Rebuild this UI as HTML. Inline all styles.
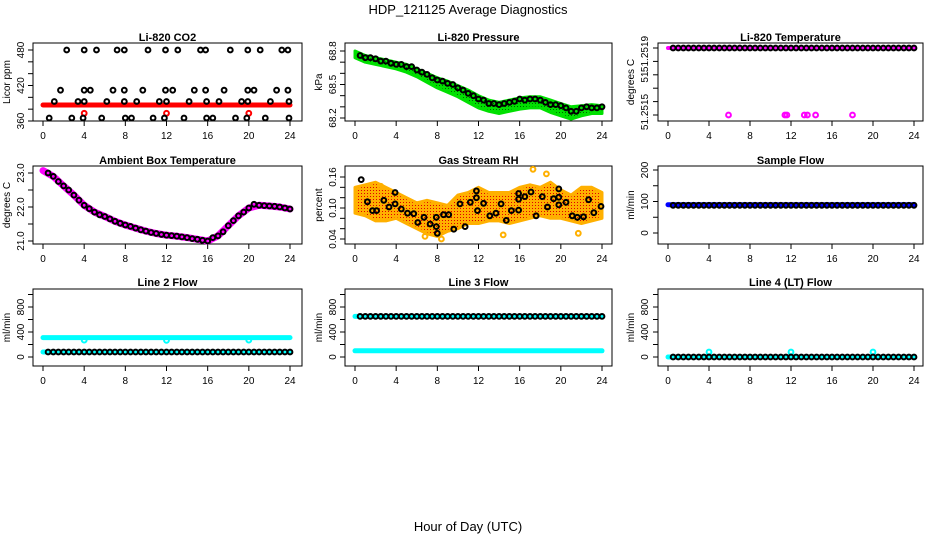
<!DOCTYPE html>
<html><head><meta charset="utf-8"><style>
body{margin:0;background:#fff}
svg{display:block;font-family:"Liberation Sans",Arial,sans-serif}
</style></head><body>
<svg id="c" width="936" height="540" viewBox="0 0 936 540">
<defs>
<pattern id="dotsG" width="3" height="3" patternUnits="userSpaceOnUse"><rect width="3" height="3" fill="#00e000"/><rect x="1" y="1" width="1" height="1" fill="#006000"/></pattern>
<pattern id="dotsO" width="3" height="3" patternUnits="userSpaceOnUse"><rect width="3" height="3" fill="#ffb000"/><rect x="1" y="1" width="1" height="1" fill="#e00000"/></pattern>
</defs>
<text x="468" y="14" text-anchor="middle" font-size="13">HDP_121125  Average Diagnostics</text>
<text x="468" y="531" text-anchor="middle" font-size="13">Hour of Day (UTC)</text>
</svg>
<script>
// ---------- data ----------
const xTickVals = [0,4,8,12,16,20,24];
const halfHours = [0.5,1,1.5,2,2.5,3,3.5,4,4.5,5,5.5,6,6.5,7,7.5,8,8.5,9,9.5,10,10.5,11,11.5,12,12.5,13,13.5,14,14.5,15,15.5,16,16.5,17,17.5,18,18.5,19,19.5,20,20.5,21,21.5,22,22.5,23,23.5,24];
const hourly = [0,1,2,3,4,5,6,7,8,9,10,11,12,13,14,15,16,17,18,19,20,21,22,23,24];

const co2Hours = [2.3,4.0,5.2,7.2,7.9,10.2,11.9,13.1,15.3,15.8,18.2,19.9,21.1,23.2,23.8,
 1.7,4.0,4.6,6.8,7.9,9.7,11.9,12.6,14.7,15.8,17.6,19.9,20.5,22.7,23.8,
 1.1,3.4,4.0,6.2,7.9,9.1,11.3,12.0,14.2,15.9,17.1,19.3,19.9,22.1,23.9,
 0.6,2.8,3.9,5.7,8.0,8.6,10.7,11.8,13.7,15.9,16.5,18.7,19.8,21.6,23.9];
const co2Vals = [480,480,480,480,480,480,480,480,480,480,480,480,480,480,480,
 412,412,412,412,412,412,412,412,412,412,412,412,412,412,412,
 393,393,393,393,393,393,393,393,393,393,393,393,393,393,393,
 365,365,365,365,365,365,365,365,365,365,365,365,365,365,365];
const co2Red = [387,387,387,387,387,387,387,387,387,387,387,387,387,387,387,387,387,387,387,387,387,387,387,387,387];
const co2RedOutHours = [4,12,20];
const co2RedOutVals = [373,373,373];

const pressVals = [68.76,68.74,68.74,68.73,68.71,68.71,68.69,68.68,68.68,68.66,68.66,68.63,68.61,68.59,68.56,68.54,68.53,68.51,68.50,68.47,68.45,68.42,68.40,68.37,68.36,68.33,68.33,68.32,68.33,68.34,68.35,68.37,68.36,68.37,68.37,68.36,68.34,68.32,68.32,68.31,68.29,68.26,68.26,68.29,68.30,68.29,68.29,68.30];
const pressHi = [68.80,68.76,68.74,68.72,68.70,68.68,68.64,68.60,68.56,68.53,68.49,68.45,68.40,68.36,68.34,68.36,68.38,68.39,68.39,68.36,68.33,68.30,68.31,68.32,68.31];
const pressLo = [68.74,68.70,68.68,68.66,68.64,68.61,68.57,68.52,68.47,68.43,68.39,68.34,68.29,68.26,68.24,68.26,68.28,68.29,68.29,68.25,68.22,68.19,68.22,68.24,68.24];

const tempVals = [51.2519,51.2519,51.2519,51.2519,51.2519,51.2519,51.2519,51.2519,51.2519,51.2519,51.2519,51.2519,51.2519,51.2519,51.2519,51.2519,51.2519,51.2519,51.2519,51.2519,51.2519,51.2519,51.2519,51.2519,51.2519,51.2519,51.2519,51.2519,51.2519,51.2519,51.2519,51.2519,51.2519,51.2519,51.2519,51.2519,51.2519,51.2519,51.2519,51.2519,51.2519,51.2519,51.2519,51.2519,51.2519,51.2519,51.2519,51.2519];
const tempMag = [51.2519,51.2519,51.2519,51.2519,51.2519,51.2519,51.2519,51.2519,51.2519,51.2519,51.2519,51.2519,51.2519,51.2519,51.2519,51.2519,51.2519,51.2519,51.2519,51.2519,51.2519,51.2519,51.2519,51.2519,51.2519];
const tempOutHours = [5.9,11.4,11.6,13.3,13.6,14.4,18.0];
const tempOutVals = [51.2514,51.2514,51.2514,51.2514,51.2514,51.2514,51.2514];

const ambVals = [23.0,22.9,22.75,22.62,22.5,22.35,22.2,22.05,21.95,21.85,21.77,21.72,21.65,21.58,21.52,21.47,21.43,21.38,21.33,21.29,21.25,21.22,21.19,21.17,21.16,21.14,21.12,21.1,21.07,21.05,21.02,21.0,21.1,21.15,21.27,21.45,21.6,21.74,21.85,21.97,22.08,22.05,22.04,22.03,22.02,22.0,21.97,21.94];
const ambMag = [23.07,22.9,22.62,22.35,22.05,21.85,21.72,21.58,21.47,21.38,21.29,21.22,21.17,21.14,21.1,21.05,21.0,21.15,21.45,21.74,21.97,22.05,22.03,22.0,21.94];

const rhHours = [0.6,1.2,1.7,2.1,2.8,3.3,3.9,3.9,4.5,5.1,5.7,6.1,6.7,7.3,7.9,7.9,8.0,8.6,9.1,9.6,10.2,10.7,11.2,11.8,11.8,11.9,12.5,13.1,13.7,14.2,14.7,15.2,15.9,15.9,15.9,16.5,17.1,17.6,18.2,18.7,19.3,19.8,19.8,19.8,20.5,21.1,21.6,22.2,22.7,23.2,23.9];
const rhVals = [0.155,0.112,0.095,0.095,0.115,0.102,0.130,0.108,0.098,0.090,0.089,0.072,0.082,0.069,0.064,0.082,0.051,0.087,0.087,0.059,0.108,0.064,0.111,0.120,0.133,0.095,0.109,0.085,0.090,0.108,0.076,0.095,0.128,0.117,0.096,0.122,0.131,0.085,0.122,0.102,0.118,0.137,0.121,0.106,0.111,0.085,0.082,0.083,0.116,0.091,0.103];
const rhHi = [0.140,0.145,0.150,0.140,0.130,0.120,0.110,0.115,0.110,0.105,0.125,0.130,0.140,0.130,0.130,0.130,0.140,0.145,0.140,0.150,0.135,0.125,0.140,0.140,0.130];
const rhLo = [0.090,0.085,0.075,0.075,0.080,0.070,0.060,0.050,0.045,0.055,0.060,0.070,0.070,0.075,0.075,0.070,0.075,0.080,0.085,0.080,0.080,0.075,0.070,0.075,0.080];
const rhOutHours = [17.3,18.6,14.4,21.7,6.8,2.5,8.4];
const rhOutVals = [0.175,0.166,0.048,0.051,0.045,0.142,0.040];

const sampleBlue = [90,90,90,90,90,90,90,90,90,90,90,90,90,90,90,90,90,90,90,90,90,90,90,90,90];
const sampleBlack = [88,88,88,88,88,88,88,88,88,88,88,88,88,88,88,88,88,88,88,88,88,88,88,88,88,88,88,88,88,88,88,88,88,88,88,88,88,88,88,88,88,88,88,88,88,88,88,88];

const l2CyanHi = [310,310,310,310,310,310,310,310,310,310,310,310,310,310,310,310,310,310,310,310,310,310,310,310,310];
const l2CyanLo = [80,80,80,80,80,80,80,80,80,80,80,80,80,80,80,80,80,80,80,80,80,80,80,80,80];
const l2CyanOutHours = [4,12,20];
const l2CyanOutVals = [270,265,270];
const l2Black = [80,80,80,80,80,80,80,80,80,80,80,80,80,80,80,80,80,80,80,80,80,80,80,80,80,80,80,80,80,80,80,80,80,80,80,80,80,80,80,80,80,80,80,80,80,80,80,80];

const l3CyanHi = [650,650,650,650,650,650,650,650,650,650,650,650,650,650,650,650,650,650,650,650,650,650,650,650,650];
const l3CyanLo = [100,100,100,100,100,100,100,100,100,100,100,100,100,100,100,100,100,100,100,100,100,100,100,100,100];
const l3Black = [650,650,650,650,650,650,650,650,650,650,650,650,650,650,650,650,650,650,650,650,650,650,650,650,650,650,650,650,650,650,650,650,650,650,650,650,650,650,650,650,650,650,650,650,650,650,650,650];

const l4Cyan = [0,0,0,0,0,0,0,0,0,0,0,0,0,0,0,0,0,0,0,0,0,0,0,0,0];
const l4CyanOutHours = [4,12,20];
const l4CyanOutVals = [80,80,80];
const l4Black = [0,0,0,0,0,0,0,0,0,0,0,0,0,0,0,0,0,0,0,0,0,0,0,0,0,0,0,0,0,0,0,0,0,0,0,0,0,0,0,0,0,0,0,0,0,0,0,0];

// ---------- drawing ----------
const svg = document.getElementById('c');
const NS = 'http://www.w3.org/2000/svg';
function mk(tag, attrs, parent){
  const e = document.createElementNS(NS, tag);
  for (const k in attrs) e.setAttribute(k, attrs[k]);
  (parent||svg).appendChild(e);
  return e;
}
const cols = [{l:33,r:302,x0:43,x24:290,yl:10,tl:24},{l:345,r:612,x0:355,x24:602,yl:322,tl:336},{l:658,r:923,x0:668,x24:914,yl:634,tl:648}];
const rows = [{t:43,b:121,ti:37},{t:166,b:244,ti:160},{t:289,b:366,ti:282}];

function panel(p){
  const c = cols[p.col], r = rows[p.row];
  const g = mk('g', {});
  
  
  const sx = h => c.x0 + (h/24)*(c.x24-c.x0);
  const sy = v => p.py0 + (v-p.v0)/(p.v1-p.v0)*(p.py1-p.py0);
  const t = mk('text', {x:(c.l+c.r)/2, y:r.ti+4, 'text-anchor':'middle','font-size':11,'font-weight':'bold'}, g);
  t.textContent = p.title;
  
  
  const box = mk('rect', {x:c.l, y:r.t, width:c.r-c.l, height:r.b-r.t, fill:'none', stroke:'#000','stroke-width':1}, g);
  
  
  const xa = mk('g', {}, g);
  
  
  mk('line', {x1:sx(0), x2:sx(24), y1:r.b, y2:r.b, stroke:'#000'}, xa);
  xTickVals.forEach(v=>{
    mk('line', {x1:sx(v), x2:sx(v), y1:r.b, y2:r.b+5, stroke:'#000'}, xa);
    const tx = mk('text', {x:sx(v), y:r.b+18, 'text-anchor':'middle','font-size':10}, xa);
    tx.textContent = v;
  });
  const ya = mk('g', {}, g);
  
  
  const ys = p.ticks.map(sy);
  mk('line', {x1:c.l, x2:c.l, y1:Math.min(...ys), y2:Math.max(...ys), stroke:'#000'}, ya);
  p.ticks.forEach(v=>mk('line', {x1:c.l-5, x2:c.l, y1:sy(v), y2:sy(v), stroke:'#000'}, ya));
  p.labels.forEach((lab,i)=>{
    const y = lab[2]!==undefined ? lab[2] : sy(lab[0]);
    const tx = mk('text', {x:c.tl, y:y, 'text-anchor':'middle','font-size':10, transform:`rotate(-90 ${c.tl} ${y})`}, ya);
    tx.textContent = lab[1];
  });
  const yl = mk('text', {x:c.yl, y:(r.t+r.b)/2, 'text-anchor':'middle','font-size':10, transform:`rotate(-90 ${c.yl} ${(r.t+r.b)/2})`}, g);
  yl.textContent = p.ylab;
  
  
  return {g, sx, sy};
}
function band(P, hrs, vals, color, w, name){
  const d = hrs.map((h,i)=>(i?'L':'M')+P.sx(h).toFixed(1)+' '+P.sy(vals[i]).toFixed(1)).join(' ');
  const e = mk('path', {d, fill:'none', stroke:color, 'stroke-width':w, 'stroke-linecap':'round','stroke-linejoin':'round'}, P.g);
  
  
}
function area(P, hrs, hi, lo, fill, name){
  let d = hrs.map((h,i)=>(i?'L':'M')+P.sx(h).toFixed(1)+' '+P.sy(hi[i]).toFixed(1)).join(' ');
  for (let i=hrs.length-1;i>=0;i--) d += ' L'+P.sx(hrs[i]).toFixed(1)+' '+P.sy(lo[i]).toFixed(1);
  d += ' Z';
  const e = mk('path', {d, fill, stroke:fill==='url(#dotsG)'?'#00e000':'#ffb000','stroke-width':3,'stroke-linejoin':'round'}, P.g);
  
  
}
function pts(P, hrs, vals, color, name, r, sw){
  const g = mk('g', {}, P.g);
  
  
  hrs.forEach((h,i)=>{
    const e = mk('circle', {cx:P.sx(h).toFixed(1), cy:P.sy(vals[i]).toFixed(1), r:r||2.4, fill:'none', stroke:color, 'stroke-width':sw||2}, g);
    
    
  });
}

let P = panel({name:'co2',col:0,row:0,title:'Li-820 CO2',ylab:'Licor ppm',v0:360,py0:121,v1:480,py1:50,
  ticks:[360,380,400,420,440,460,480],labels:[[360,'360'],[420,'420'],[480,'480']]});
band(P, hourly, co2Red, '#ff0000', 5, 'co2-red-series');
pts(P, co2RedOutHours, co2RedOutVals, '#ff0000', 'co2-red-outliers');
pts(P, co2Hours, co2Vals, '#000', 'co2-black-series');

P = panel({name:'pressure',col:1,row:0,title:'Li-820 Pressure',ylab:'kPa',v0:68.2,py0:118,v1:68.8,py1:51,
  ticks:[68.2,68.3,68.4,68.5,68.6,68.7,68.8],labels:[[68.2,'68.2'],[68.5,'68.5'],[68.8,'68.8']]});
area(P, hourly, pressHi, pressLo, 'url(#dotsG)', 'pressure-green-series');
pts(P, halfHours, pressVals, '#000', 'pressure-black-series');

P = panel({name:'li820-temp',col:2,row:0,title:'Li-820 Temperature',ylab:'degrees C',v0:51.2514,py0:115,v1:51.2519,py1:48,
  ticks:[51.2514,51.2515,51.2516,51.2517,51.2518,51.2519],labels:[[0,'51.2519',54],[0,'51',77],[0,'51.2515',112]]});
band(P, hourly, tempMag, '#ff00ff', 4, 'li820-temp-magenta-series');
pts(P, tempOutHours, tempOutVals, '#ff00ff', 'li820-temp-magenta-outliers');
pts(P, halfHours, tempVals, '#000', 'li820-temp-black-series');

P = panel({name:'ambient-temp',col:0,row:1,title:'Ambient Box Temperature',ylab:'degrees C',v0:21.0,py0:241,v1:23.0,py1:173,
  ticks:[21.0,21.5,22.0,22.5,23.0],labels:[[21.0,'21.0'],[22.0,'22.0'],[23.0,'23.0']]});
band(P, hourly, ambMag, '#ff00ff', 7, 'ambient-magenta-series');
pts(P, halfHours, ambVals, '#000', 'ambient-black-series');

P = panel({name:'gas-rh',col:1,row:1,title:'Gas Stream RH',ylab:'percent',v0:0.04,py0:239,v1:0.16,py1:177,
  ticks:[0.04,0.06,0.08,0.10,0.12,0.14,0.16],labels:[[0.04,'0.04'],[0.10,'0.10'],[0.16,'0.16']]});
area(P, hourly, rhHi, rhLo, 'url(#dotsO)', 'rh-orange-series');
pts(P, rhOutHours, rhOutVals, '#ffb000', 'rh-orange-outliers', 2.4, 2);
pts(P, rhHours, rhVals, '#000', 'rh-black-series');

P = panel({name:'sample-flow',col:2,row:1,title:'Sample Flow',ylab:'ml/min',v0:0,py0:233,v1:200,py1:170,
  ticks:[0,50,100,150,200],labels:[[0,'0'],[100,'100'],[200,'200']]});
band(P, hourly, sampleBlue, '#0000ff', 5, 'sample-flow-blue-series');
pts(P, halfHours, sampleBlack, '#000', 'sample-flow-black-series');

const flowTicks = [0,200,400,600,800,1000];
const flowLabels = [[0,'0'],[400,'400'],[800,'800']];
P = panel({name:'line2-flow',col:0,row:2,title:'Line 2 Flow',ylab:'ml/min',v0:0,py0:357,v1:800,py1:307,ticks:flowTicks,labels:flowLabels});
band(P, hourly, l2CyanHi, '#00ffff', 5, 'line2-cyan-upper-series');
band(P, hourly, l2CyanLo, '#00ffff', 5, 'line2-cyan-lower-series');
pts(P, l2CyanOutHours, l2CyanOutVals, '#00ffff', 'line2-cyan-outliers');
pts(P, halfHours, l2Black, '#000', 'line2-black-series');

P = panel({name:'line3-flow',col:1,row:2,title:'Line 3 Flow',ylab:'ml/min',v0:0,py0:357,v1:800,py1:307,ticks:flowTicks,labels:flowLabels});
band(P, hourly, l3CyanHi, '#00ffff', 5, 'line3-cyan-upper-series');
band(P, hourly, l3CyanLo, '#00ffff', 5, 'line3-cyan-lower-series');
pts(P, halfHours, l3Black, '#000', 'line3-black-series');

P = panel({name:'line4-flow',col:2,row:2,title:'Line 4 (LT) Flow',ylab:'ml/min',v0:0,py0:357,v1:800,py1:307,ticks:flowTicks,labels:flowLabels});
band(P, hourly, l4Cyan, '#00ffff', 5, 'line4-cyan-series');
pts(P, l4CyanOutHours, l4CyanOutVals, '#00ffff', 'line4-cyan-outliers');
pts(P, halfHours, l4Black, '#000', 'line4-black-series');
</script>
</body></html>
